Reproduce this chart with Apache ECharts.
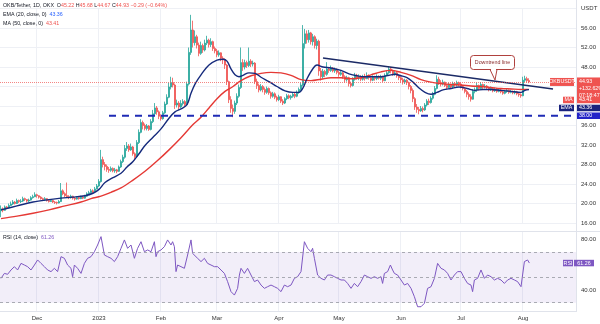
<!DOCTYPE html>
<html><head><meta charset="utf-8">
<script src="https://cdn.jsdelivr.net/npm/echarts@6/dist/echarts.min.js"></script>
<style>html,body{margin:0;padding:0;background:#fff}#c{width:600px;height:324px}</style>
</head><body><div id="c"></div>
<script>
// ---------------- DATA ----------------
const startDate = [2022, 10, 13];      // first candle: 13 Nov 2022 (daily)
const numSlots = 288;                  // days on the time axis (incl. right margin)
const firstOpen = 18.5;
const closes = [
18.9,18.6,19.3,19.1,19.6,19.9,20.3,20.0,20.6,20.4,
20.5,21.0,20.8,20.5,20.7,21.2,21.4,21.8,21.6,21.3,
21.0,20.8,21.0,20.6,20.4,20.6,20.3,20.2,20.1,20.4,
22.6,22.0,21.6,21.4,21.2,21.5,21.1,20.9,21.2,21.0,
21.3,21.1,21.5,22.0,22.2,22.6,22.4,23.0,23.6,24.5,
29.0,28.0,27.6,27.0,26.8,27.2,26.7,26.9,26.6,27.5,
28.6,29.5,31.3,31.8,31.0,31.6,30.2,29.6,32.5,34.6,
36.6,36.0,35.4,35.9,35.2,36.8,38.4,39.6,38.8,37.9,
37.4,38.6,40.4,41.8,43.9,44.8,44.3,40.2,40.6,39.8,
40.5,40.9,40.3,44.5,51.0,55.6,53.0,54.2,52.5,50.8,
52.4,51.5,52.9,53.5,52.6,53.2,51.8,51.3,50.5,50.9,
49.8,49.5,48.4,45.0,41.3,39.5,38.9,40.6,42.0,43.8,
48.9,48.0,48.9,48.3,49.2,48.6,48.8,45.0,44.2,43.3,
44.0,43.4,42.8,43.6,42.7,42.0,42.5,41.8,41.3,41.9,
41.0,40.6,41.5,42.1,41.7,42.0,42.4,42.0,42.8,43.4,
44.3,52.8,54.8,53.6,55.0,53.2,54.2,52.4,53.3,47.2,
46.0,47.1,46.5,47.6,47.3,47.8,47.2,47.5,46.9,46.5,
46.8,46.0,45.4,45.8,44.6,44.2,45.5,46.3,45.8,46.0,
45.5,45.9,45.6,46.2,45.8,45.3,45.9,45.6,46.1,45.7,
46.0,45.2,46.3,46.8,47.6,47.2,46.6,46.8,46.2,45.8,
45.4,44.9,45.3,44.8,44.0,43.2,41.5,39.8,39.3,39.0,
39.5,39.2,40.2,41.0,40.7,41.6,42.4,43.6,45.5,44.8,
44.5,44.9,44.2,43.8,44.4,43.9,44.6,44.3,44.8,44.5,
44.0,43.6,43.0,42.4,41.9,41.4,43.0,43.3,44.2,43.6,
44.4,43.9,44.1,43.7,43.3,43.6,43.1,43.4,43.0,43.3,
42.9,42.6,43.0,43.2,42.8,43.0,42.7,42.9,42.5,42.3,
42.1,45.3,45.6,45.22,44.93];
const highs = [
19.6,19.2,19.6,19.5,20.0,20.4,20.7,20.5,21.0,20.8,
20.9,21.4,21.2,20.9,21.0,21.5,21.8,22.3,22.0,21.7,
21.5,21.2,21.3,21.1,20.8,20.9,20.7,20.5,20.4,20.7,
24.2,22.9,22.3,24.3,21.7,21.8,21.6,21.3,21.5,21.4,
21.6,21.5,21.8,22.3,22.6,23.0,22.9,23.4,24.0,25.0,
31.0,29.6,28.5,28.0,27.5,27.6,27.4,27.3,27.1,27.8,
29.0,30.0,32.0,32.6,32.2,32.3,31.8,30.5,33.0,35.2,
37.3,37.0,36.4,36.3,36.1,37.3,39.2,40.6,40.0,39.1,
38.3,39.0,40.9,42.4,44.8,46.0,45.8,44.6,41.3,41.0,
41.2,41.4,41.2,45.0,52.0,58.7,57.5,55.5,54.6,53.0,
53.2,52.8,53.6,54.4,53.8,53.9,53.4,52.2,51.7,51.4,
51.0,50.2,49.8,48.6,45.2,42.0,40.3,41.1,42.6,44.4,
52.0,49.6,49.5,49.3,52.0,49.6,49.3,49.0,45.6,44.6,
44.5,44.3,43.8,44.0,43.8,43.0,42.9,42.8,42.1,42.3,
42.0,41.4,41.8,42.5,42.4,42.3,42.8,42.7,43.2,43.8,
44.8,56.6,55.8,55.5,55.6,55.2,54.8,54.5,53.8,53.6,
47.8,47.6,47.4,49.0,48.0,48.3,48.0,47.9,47.7,47.2,
47.3,47.0,46.3,46.2,46.0,45.0,45.9,46.8,46.6,46.5,
46.3,46.4,46.6,46.9,46.5,46.1,46.3,46.2,46.5,46.3,
46.4,46.2,46.7,47.3,48.2,48.0,47.5,47.2,47.0,46.5,
46.1,45.8,45.6,45.5,45.0,44.3,43.6,41.8,40.4,39.8,
40.0,39.9,40.6,41.4,41.5,42.0,42.9,44.1,46.3,46.0,
45.3,45.4,45.0,44.6,44.8,44.6,45.0,44.9,45.2,45.0,
44.8,44.3,43.9,43.3,42.8,42.4,43.5,43.8,44.8,44.4,
44.9,44.6,44.5,44.3,44.0,44.0,43.8,43.8,43.7,43.6,
43.5,43.2,43.3,43.6,43.4,43.3,43.2,43.2,43.1,42.8,
42.6,46.0,46.2,46.0,45.68];
const lows = [
17.2,18.2,18.5,18.8,19.0,19.5,19.7,19.8,19.9,20.1,
20.1,20.3,20.5,20.2,20.3,20.6,21.0,21.3,21.2,21.0,
20.8,20.5,20.6,20.4,20.2,20.3,20.1,19.9,19.8,20.0,
20.3,21.7,21.3,21.2,20.9,21.0,20.8,20.6,20.8,20.8,
20.9,20.9,21.0,21.4,21.8,22.0,22.1,22.3,22.9,23.4,
24.3,27.4,26.8,26.5,26.3,26.5,26.4,26.3,26.2,26.5,
27.3,28.3,29.2,30.8,30.6,30.8,29.8,29.0,29.4,32.2,
34.4,35.2,35.0,35.0,34.9,35.0,36.5,38.0,38.2,37.3,
37.0,37.2,38.4,40.2,41.6,43.4,43.8,39.4,39.7,39.2,
39.6,40.1,39.9,40.1,44.2,50.5,52.0,52.4,51.8,50.2,
50.5,50.9,51.2,52.5,52.0,52.1,51.3,50.8,50.0,50.1,
49.2,48.6,47.6,44.3,40.6,38.6,37.7,38.4,40.2,41.7,
43.5,47.2,47.5,47.8,48.0,48.0,48.1,44.5,43.5,42.8,
43.0,42.8,42.3,42.5,42.3,41.5,41.7,41.4,40.9,41.0,
40.6,40.2,40.4,41.2,41.4,41.3,41.7,41.6,41.8,42.5,
43.0,44.0,51.8,52.8,53.0,52.6,52.4,51.8,51.6,46.2,
45.2,45.6,45.9,46.2,46.8,47.0,46.9,46.8,46.5,46.0,
46.2,45.6,44.8,45.0,44.0,43.8,44.0,45.2,45.4,45.3,
45.1,45.2,45.2,45.5,45.4,45.0,45.1,45.2,45.3,45.4,
45.3,44.9,45.1,46.1,46.6,46.7,46.2,46.2,45.8,45.3,
44.8,44.4,44.5,44.3,43.4,42.6,40.8,39.2,38.6,38.3,
38.8,38.7,39.0,39.9,40.2,40.5,41.3,42.2,43.4,44.3,
44.0,44.2,43.9,43.4,43.6,43.5,43.7,43.9,44.0,44.1,
43.6,43.2,42.6,41.8,41.3,40.9,41.3,42.6,42.9,43.2,
43.4,43.5,43.6,43.3,43.0,43.1,42.8,42.9,42.7,42.8,
42.6,42.3,42.4,42.7,42.5,42.6,42.4,42.4,42.2,41.9,
41.7,42.0,44.9,44.8,44.67];
// [day index, value] readings of the indicator lines
const ema20 = [[0,18.7],[8,19.5],[16,20.3],[24,20.8],[30,21.1],[36,21.3],[42,21.6],[46,22.1],[49,22.9],[52,24.3],[56,25.3],[60,26.2],[63,27.5],[66,28.6],[69,30.2],[72,31.9],[76,33.6],[80,35.3],[84,37.5],[87,38.8],[90,39.4],[93,40.3],[95,42.6],[97,44.5],[100,46.4],[104,48.4],[108,49.4],[111,49.6],[113,49.2],[115,47.6],[117,46.4],[119,46.0],[121,46.3],[124,46.8],[127,46.7],[130,45.9],[134,45.0],[138,44.0],[142,43.1],[146,42.8],[149,42.8],[151,43.7],[153,45.6],[156,47.7],[158,48.4],[161,48.0],[165,47.8],[170,47.3],[174,46.6],[178,46.2],[182,46.0],[186,46.0],[190,46.0],[194,46.3],[197,46.5],[200,46.2],[203,45.8],[206,44.9],[209,43.7],[212,42.8],[215,42.4],[218,42.8],[221,43.3],[225,43.6],[229,43.9],[233,43.6],[237,43.2],[241,43.4],[245,43.4],[250,43.2],[255,43.0],[260,42.8],[262,43.2],[264,43.36]];
const ma50 = [[0,16.9],[8,17.4],[16,18.0],[24,18.7],[32,19.5],[40,20.3],[45,21.0],[50,21.5],[55,22.3],[60,23.2],[66,24.8],[72,26.6],[78,28.7],[84,31.0],[90,33.5],[96,36.2],[100,37.7],[104,39.6],[108,41.5],[112,43.0],[116,44.0],[120,45.2],[125,46.2],[130,46.7],[135,46.9],[140,46.8],[145,46.3],[150,45.4],[155,45.2],[160,45.5],[165,45.8],[170,45.8],[175,45.6],[180,45.8],[185,46.4],[190,47.0],[195,47.3],[200,46.9],[205,46.3],[210,45.4],[215,44.9],[220,44.6],[225,44.4],[230,44.3],[235,44.1],[240,44.0],[245,43.8],[250,43.6],[255,43.5],[260,43.4],[264,43.41]];
const rsi14 = [[0,49.2],[1.7,53.1],[3.3,52.4],[5,55.8],[6.7,58.4],[8.3,55.8],[10,61.0],[11.7,59.7],[13.3,58.4],[15,55.8],[16.7,59.7],[18.3,63.7],[20,61.0],[21.7,58.4],[23.3,55.8],[25,54.5],[26.7,57.1],[28.3,54.5],[30,66.3],[31.7,65],[33.3,59.7],[35,57.1],[35.8,50.5],[36.7,59.7],[38.3,57.1],[40,53.1],[41.7,61],[43.3,65],[45,66.3],[46.7,70.2],[48.3,75.5],[50,82.1],[51.7,67.6],[53.3,66.3],[55,65],[56.7,62.4],[58.3,66.3],[60,72.9],[61.7,79.5],[63.3,72.9],[65,75.5],[66.7,65],[68.3,72.9],[70,78.1],[71.7,70.2],[73.3,71.6],[75,70.2],[76.7,78.1],[77.5,66.3],[78.3,70.2],[80,71.6],[81.7,74.2],[83.3,79.5],[85,75.5],[85.8,78.1],[86.7,74.2],[87.5,54.5],[88.3,59.7],[90,58.4],[91.7,57.1],[93.3,67.6],[95,79.5],[95.8,68.9],[96.7,67.6],[98.3,65],[100,62.4],[101.7,65],[103.3,61],[105,59.7],[106.7,58.4],[108.3,58.4],[110,55.8],[111.7,53.1],[113.3,46.6],[115,38.7],[116.7,36.0],[118.3,41.3],[119.2,51.8],[120,57.1],[121.7,53.1],[123.3,57.1],[125,51.8],[126.7,46.6],[128.3,47.9],[130,43.9],[131.7,41.3],[133.3,42.6],[135,43.9],[136.7,42.6],[138.3,41.3],[140,38.7],[141.7,43.9],[143.3,42.6],[145,43.9],[146.7,49.2],[148.3,50.5],[150,54.5],[151.7,78.1],[153.3,72.9],[155,70.2],[155.8,72.9],[156.7,65],[157.5,66.3],[158.3,51.8],[160,49.2],[161.7,47.9],[163.3,51.8],[165,51.8],[166.7,50.5],[168.3,49.2],[170,47.9],[171.7,47.9],[173.3,45.2],[175,41.3],[176.7,45.2],[178.3,42.6],[180,46.6],[181.7,51.8],[183.3,50.5],[185,49.2],[186.7,50.5],[188.3,49.2],[190,50.5],[190.8,45.2],[191.7,53.1],[193.3,54.5],[194.7,59.7],[195.8,55.8],[196.7,53.1],[198.3,51.8],[200,47.9],[201.7,43.9],[203.3,45.2],[205,41.3],[206.7,34.7],[208.3,26.8],[210,26.8],[211.7,29.5],[213.3,41.3],[215,42.6],[216.7,49.2],[218.3,61],[220,57.1],[221.7,55.8],[223.3,53.1],[225,47.9],[226.7,51.8],[228.3,54.5],[230,54.5],[231.7,49.2],[233.3,45.2],[235,43.9],[235.8,38.7],[236.7,47.9],[238.3,49.2],[240,55.8],[241.7,49.2],[243.3,51.8],[245,50.5],[246.7,47.9],[248.3,49.2],[250,47.9],[251.7,45.2],[253.3,47.9],[255,49.2],[256.7,47.9],[258.3,46.6],[260,42.6],[260.8,41.3],[261.7,62.4],[263.3,63.7],[264.2,61.26]];
const trendline = [[161, 49.85], [276, 43.5]];
const supportLevel = 38;
const supportStartDay = 54;
const rsiLevels = [70, 50, 30];
const monthNames = ['Jan','Feb','Mar','Apr','May','Jun','Jul','Aug','Sep','Oct','Nov','Dec'];
const priceTicksHidden = [40, 44, 60];
const rsiTickLabels = [40, 80];
const symbolTitle = 'OKB/Tether, 1D, OKX';
const ohlc = {O: '45.22', H: '45.68', L: '44.67', C: '44.93'};
const change = '\u22120.29 (\u22120.64%)';
const lastPrice = 44.93, pctSinceStart = '+132.62%', countdown = '07:18:47';
const emaLast = '43.36', maLast = '43.41', rsiLast = 61.26;

// ---------------- BUILD ----------------
const FONT = '"Liberation Sans", Arial, sans-serif';
const UP = '#26a69a', DOWN = '#ef5350', EMA_C = '#152a7c', MA_C = '#e53935', RSI_C = '#7e57c2';
const DARK = '#131722';
const LF = '5.3px ' + FONT;

const categories = [];
const t0 = Date.UTC(startDate[0], startDate[1], startDate[2]);
for (let i = 0; i < numSlots; i++) categories.push(new Date(t0 + i * 86400000).toISOString().slice(0, 10));
const isMonthStart = (idx) => !!categories[idx] && categories[idx].slice(8) === '01';
const monthLabel = (v) => { const m = +v.slice(5, 7); return m === 1 ? v.slice(0, 4) : monthNames[m - 1]; };

const candles = closes.map((c, i) => [i ? closes[i - 1] : firstOpen, c, lows[i], highs[i]]);

const chart = echarts.init(document.getElementById('c'));
chart.setOption({
  animation: false,
  backgroundColor: '#ffffff',
  textStyle: { fontFamily: FONT },
  grid: [
    { left: 0, width: 576, top: 8.5, height: 214.5, outerBoundsMode: 'none', containLabel: false },
    { left: 0, width: 576, top: 232, height: 79, outerBoundsMode: 'none', containLabel: false }
  ],
  xAxis: [
    { type: 'category', gridIndex: 0, data: categories, boundaryGap: true,
      axisLine: { show: false }, axisTick: { show: false }, axisLabel: { show: false },
      splitLine: { show: true, interval: isMonthStart, lineStyle: { color: '#eef0f5', width: 1 } } },
    { type: 'value', gridIndex: 0, min: -0.5, max: numSlots - 0.5, show: false },
    { type: 'category', gridIndex: 1, data: categories, boundaryGap: true,
      axisLine: { show: true, lineStyle: { color: '#e0e3eb' } }, axisTick: { show: false },
      axisLabel: { interval: isMonthStart, formatter: monthLabel, fontSize: 6, color: '#333', margin: 4, fontFamily: FONT },
      splitLine: { show: true, interval: isMonthStart, lineStyle: { color: '#eef0f5', width: 1 } } },
    { type: 'value', gridIndex: 1, min: -0.5, max: numSlots - 0.5, show: false }
  ],
  yAxis: [
    { type: 'value', gridIndex: 0, position: 'right', min: 16, max: 60, interval: 4,
      axisLine: { show: false }, axisTick: { show: false },
      axisLabel: { fontSize: 6, color: '#333', margin: 5, fontFamily: FONT,
        formatter: (v) => priceTicksHidden.includes(v) ? '' : v.toFixed(2) },
      splitLine: { lineStyle: { color: '#eef0f5' } } },
    { type: 'value', gridIndex: 1, position: 'right', min: 23.43, max: 85.76,
      axisLine: { show: false }, axisTick: { show: false },
      axisLabel: { fontSize: 6, color: '#333', margin: 5, fontFamily: FONT, showMinLabel: false, showMaxLabel: false,
        formatter: (v) => rsiTickLabels.includes(v) ? v.toFixed(2) : '' },
      splitLine: { show: false } }
  ],
  series: [
    { type: 'candlestick', xAxisIndex: 0, yAxisIndex: 0, data: candles, barWidth: 1.5,
      itemStyle: { color: UP, color0: DOWN, borderColor: UP, borderColor0: DOWN, borderWidth: 0.8 },
      markLine: { silent: true, symbol: 'none', label: { show: false },
        lineStyle: { color: DOWN, type: 'dotted', width: 1, opacity: 0.7 },
        data: [{ yAxis: lastPrice }] } },
    { type: 'line', xAxisIndex: 1, yAxisIndex: 0, data: ma50, smooth: 0.35, symbol: 'none',
      lineStyle: { color: MA_C, width: 1.4 } },
    { type: 'line', xAxisIndex: 1, yAxisIndex: 0, data: ema20, smooth: 0.35, symbol: 'none',
      lineStyle: { color: EMA_C, width: 1.4 } },
    { type: 'line', xAxisIndex: 1, yAxisIndex: 0, data: trendline, symbol: 'none',
      lineStyle: { color: '#1b2a66', width: 1.5 } },
    { type: 'line', xAxisIndex: 1, yAxisIndex: 0, data: [[supportStartDay, supportLevel], [numSlots - 0.5, supportLevel]], symbol: 'none',
      lineStyle: { color: '#1f2bb5', width: 2, type: [7, 6] } },
    { type: 'line', xAxisIndex: 3, yAxisIndex: 1, data: rsi14, symbol: 'none',
      lineStyle: { color: RSI_C, width: 1 },
      markArea: { silent: true, itemStyle: { color: 'rgba(126,87,194,0.10)' },
        data: [[{ yAxis: rsiLevels[0] }, { yAxis: rsiLevels[2] }]] },
      markLine: { silent: true, symbol: 'none', label: { show: false },
        lineStyle: { color: '#9598a1', type: [3, 3], width: 0.8 },
        data: rsiLevels.map(v => ({ yAxis: v })) } }
  ]
});

// ---------------- OVERLAYS ----------------
const py = (v) => chart.convertToPixel({ yAxisIndex: 0 }, v);
const ry = (v) => chart.convertToPixel({ yAxisIndex: 1 }, v);
const tag = (x, y, w, h, fill, text, align) => ([
  { type: 'rect', shape: { x, y: y - h / 2, width: w, height: h }, style: { fill } , z: 100 },
  { type: 'text', x: align === 'left' ? x + 2 : x + w / 2, y, z: 101,
    style: { text, fill: '#fff', font: '5.3px ' + FONT, align: align || 'center', verticalAlign: 'middle' } }
]);
const yP = py(lastPrice);
const els = [];
els.push({ type: 'line', shape: { x1: 0, y1: 231.5, x2: 600, y2: 231.5 }, style: { stroke: '#e0e3eb', lineWidth: 1 }, z: 90 });
els.push({ type: 'line', shape: { x1: 576.5, y1: 0, x2: 576.5, y2: 312 }, style: { stroke: '#e0e3eb', lineWidth: 1 }, z: 90 });
els.push({ type: 'rect', shape: { x: 578, y: 3, width: 21, height: 10 }, style: { fill: '#fff' }, z: 100 });
els.push({ type: 'text', x: 581, y: 8, z: 101, style: { text: 'USDT', fill: '#333', font: '6px ' + FONT, verticalAlign: 'middle' } });
// legend lines
els.push({ type: 'text', x: 3, y: 6, z: 101, style: {
  text: `{d|${symbolTitle}  }{d|O}{r|${ohlc.O}} {d|H}{r|${ohlc.H}} {d|L}{r|${ohlc.L}} {d|C}{r|${ohlc.C}} {r|${change}}`,
  verticalAlign: 'middle', font: LF,
  rich: { d: { fill: DARK, font: LF }, r: { fill: DOWN, font: LF } } } });
els.push({ type: 'text', x: 3, y: 15, z: 101, style: {
  text: `{d|EMA (20, close, 0)  }{b|${emaLast}}`, verticalAlign: 'middle',
  rich: { d: { fill: DARK, font: LF }, b: { fill: '#2962ff', font: LF } } } });
els.push({ type: 'text', x: 3, y: 24, z: 101, style: {
  text: `{d|MA (50, close, 0)  }{r|${maLast}}`, verticalAlign: 'middle',
  rich: { d: { fill: DARK, font: LF }, r: { fill: DOWN, font: LF } } } });
els.push({ type: 'text', x: 3, y: 238, z: 101, style: {
  text: `{d|RSI (14, close)  }{p|${rsiLast.toFixed(2)}}`, verticalAlign: 'middle',
  rich: { d: { fill: DARK, font: LF }, p: { fill: RSI_C, font: LF } } } });
// price tags
els.push(...tag(550, yP, 24, 8, DOWN, 'OKBUSDT'));
els.push({ type: 'rect', shape: { x: 577, y: yP - 4.5, width: 23, height: 22 }, style: { fill: DOWN }, z: 100 });
[[lastPrice.toFixed(2), 0], [pctSinceStart, 7], [countdown, 13.5]].forEach(([t, dy]) =>
  els.push({ type: 'text', x: 579, y: yP + dy, z: 101, style: { text: t, fill: '#fff', font: '5.3px ' + FONT, verticalAlign: 'middle' } }));
const yMA = yP + 18, yEMA = yP + 26;
els.push(...tag(563, yMA, 11, 6.5, DOWN, 'MA'));
els.push(...tag(577, yMA, 23, 6.5, DOWN, maLast, 'left'));
els.push(...tag(559, yEMA, 15, 6.5, '#1a237e', 'EMA'));
els.push(...tag(577, yEMA, 23, 6.5, '#1a237e', emaLast, 'left'));
els.push(...tag(577, py(supportLevel), 23, 6.5, '#2424c8', supportLevel.toFixed(2), 'left'));
// RSI tags
const yR = ry(rsiLast);
els.push(...tag(563, yR, 10, 6.5, RSI_C, 'RSI'));
els.push(...tag(574, yR, 20, 6.5, RSI_C, rsiLast.toFixed(2)));
// downtrend callout
const tipX = 495, tipY = 80;
els.push({ type: 'rect', shape: { x: 470.5, y: 55.5, width: 44, height: 14, r: 3 }, style: { fill: '#fff', stroke: '#b0413e', lineWidth: 1 }, z: 102 });
els.push({ type: 'polygon', shape: { points: [[490, 69.5], [tipX, tipY], [497, 69.5]] }, style: { fill: '#fff', stroke: '#b0413e', lineWidth: 1 }, z: 103 });
els.push({ type: 'line', shape: { x1: 491, y1: 69.5, x2: 496, y2: 69.5 }, style: { stroke: '#fff', lineWidth: 1.5 }, z: 104 });
els.push({ type: 'text', x: 492.5, y: 62.5, z: 105, style: { text: 'Downtrend line', fill: '#8a2b2b', font: '5.3px ' + FONT, align: 'center', verticalAlign: 'middle' } });
chart.setOption({ graphic: { elements: els } });
</script>
</body></html>
